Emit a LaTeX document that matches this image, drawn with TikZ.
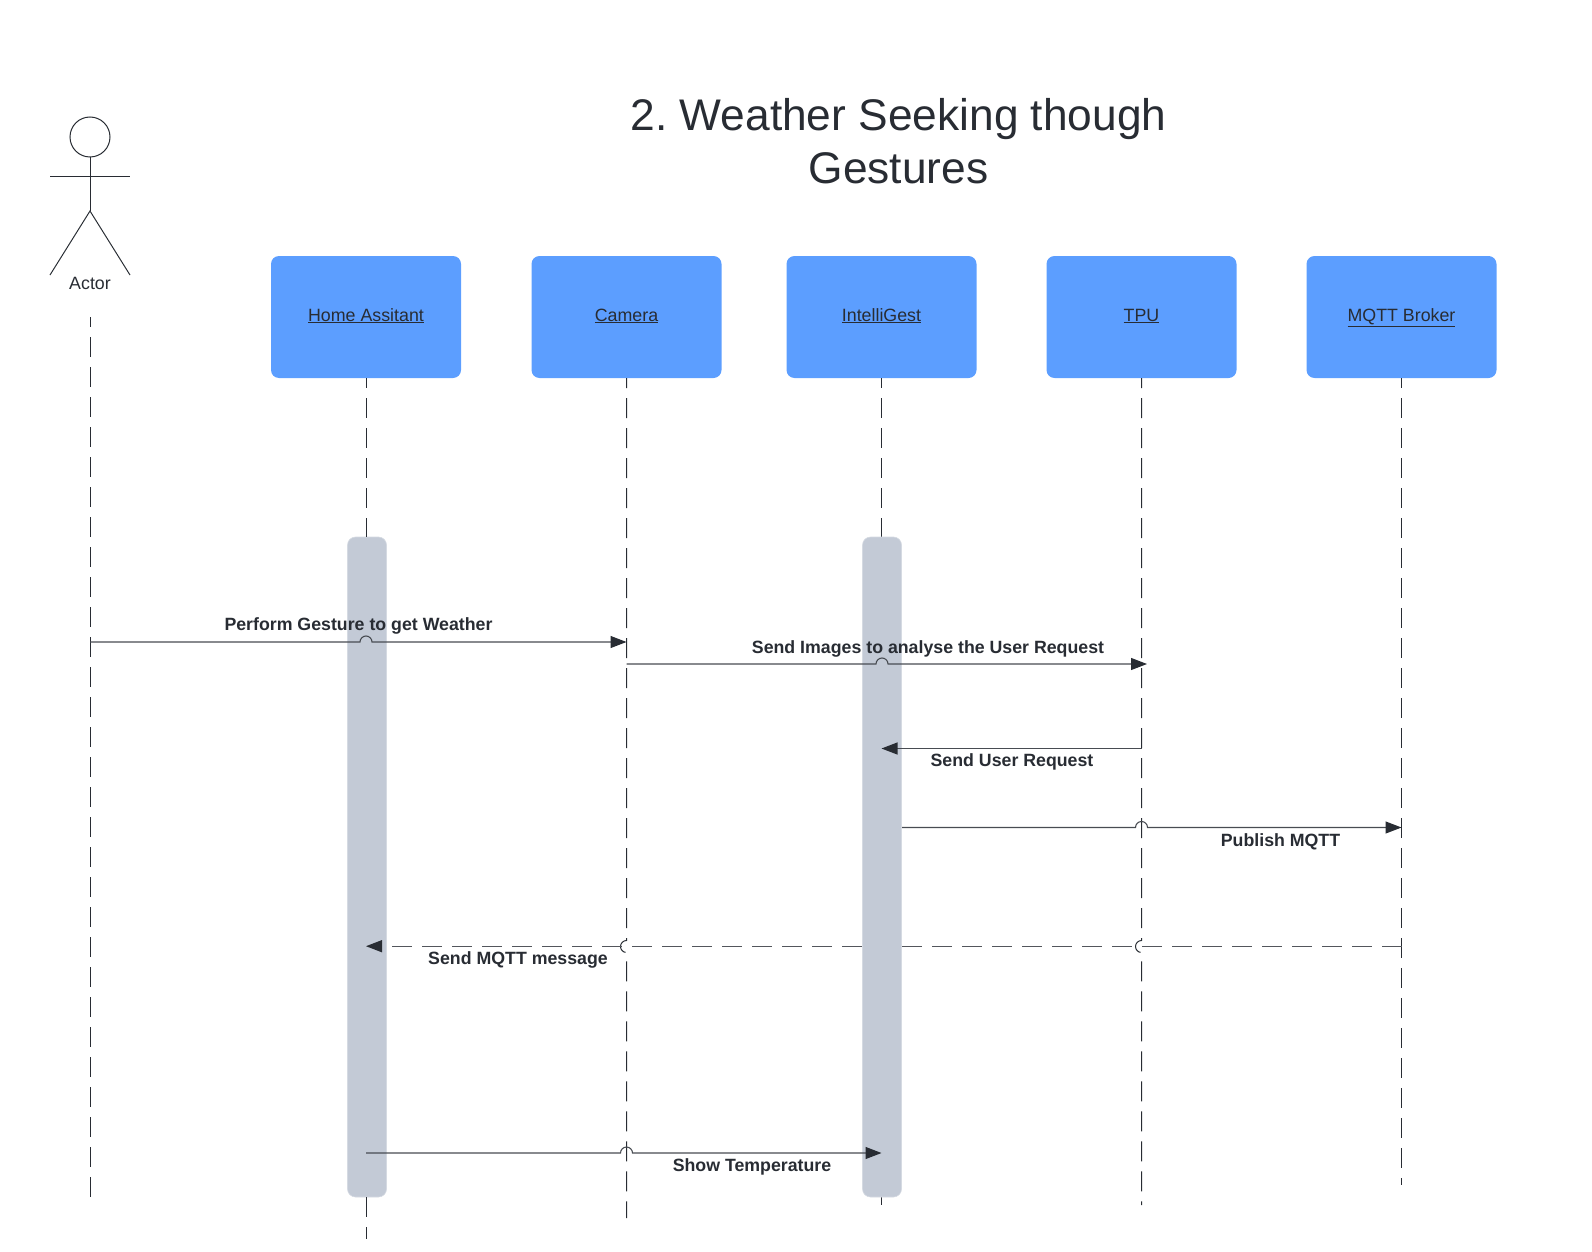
\documentclass[tikz,border=0pt]{standalone}
\usepackage{fontspec}
\setmainfont{Liberation Sans}
\usetikzlibrary{arrows.meta}

\definecolor{inkdark}{HTML}{282C33}
\definecolor{boxblue}{HTML}{5C9EFF}
\definecolor{barblue}{HTML}{C3CAD6}

\tikzset{
  lifebox/.style={fill=boxblue, rounded corners=8pt, minimum width=190pt, minimum height=122pt,
    inner sep=0pt, text=inkdark, text height=13pt, text depth=5pt, font=\fontsize{17.8}{20}\selectfont},
  lifeline/.style={draw=inkdark, line width=1pt, dash pattern=on 20pt off 10pt, dash phase=10pt},
  activebar/.style={fill=barblue, draw=barblue!70!white, line width=0.6pt, rounded corners=8pt,
    minimum width=39pt, minimum height=660pt, inner sep=0pt},
  msg/.style={draw=inkdark!85!white, line width=1.1pt,
    -{Triangle[length=16pt,width=12pt,fill=inkdark,color=inkdark]}},
  msglabel/.style={text=inkdark, inner sep=0pt, font=\fontsize{17.75}{20}\selectfont\bfseries},
  stick/.style={draw=inkdark, line width=1pt}
}

\begin{document}
\frenchspacing
\begin{tikzpicture}[x=1pt, y=-1pt]

  \useasboundingbox (0,0) rectangle (1592,1252);

  \def\hopradius{6pt}

  % Title
  \node[text=inkdark, inner sep=0pt, align=center, font=\fontsize{44.3}{53}\selectfont] (title)
    at (898.5,141) {2. Weather Seeking though\\Gestures};

  % Actor figure
  \coordinate (hip) at (90,211);
  \coordinate (handl) at (50,176.5);
  \coordinate (handr) at (130,176.5);
  \coordinate (footl) at (50,275);
  \coordinate (footr) at (130,275);
  \node[circle, draw=inkdark, line width=1pt, minimum size=40pt, inner sep=0pt] (head) at (90,137) {};
  \draw[stick] (head.south) -- (hip);
  \draw[stick] (handl) -- (handr);
  \draw[stick] (footl) -- (hip) -- (footr);
  \node[text=inkdark, inner sep=0pt, font=\fontsize{17.8}{20}\selectfont] (actor) at (90,283.5) {Actor};

  % Boxes across the top
  \foreach \name/\xpos/\boxtext in {home/366/Home Assitant, camera/626.5/Camera, intelli/881.5/IntelliGest,
      tpu/1141.5/TPU, broker/1401.5/MQTT Broker}{
    \node[lifebox] (\name) at (\xpos,317) {\underline{\boxtext}};
  }

  % Activation bars, the IntelliGest one is redrawn later over the dashed message
  \node[activebar] (homebar) at (367,867) {};

  % Lower ends of the lifelines
  \coordinate (actortop) at (90,317);
  \coordinate (actorend) at (90,1198);
  \coordinate (homeend) at (366,1239);
  \coordinate (cameraend) at (626.5,1218);
  \coordinate (intelliend) at (881.5,1205);
  \coordinate (tpuend) at (1141.5,1205);
  \coordinate (brokerend) at (1401.5,1185);
  \coordinate (hometop) at (366,537);
  \coordinate (homelow) at (366,1197);
  \coordinate (intellitop) at (881.5,537);
  \coordinate (intellilow) at (881.5,1197);

  % Lifelines, camera and TPU jump over the dashed message
  \coordinate (camerahop) at (626.5,940.5);
  \coordinate (tpuhop) at (1141.5,940.5);
  \draw[lifeline] (actortop) -- (actorend);
  \draw[lifeline] (home.south) -- (hometop);
  \draw[lifeline, dash phase=0pt] (homelow) -- (homeend);
  \draw[lifeline] (camera.south) -- (camerahop) arc[start angle=90, end angle=270, radius=\hopradius] -- (cameraend);
  \draw[lifeline] (intelli.south) -- (intellitop);
  \draw[lifeline, dash phase=0pt] (intellilow) -- (intelliend);
  \draw[lifeline] (tpu.south) -- (tpuhop) arc[start angle=90, end angle=270, radius=\hopradius] -- (tpuend);
  \draw[lifeline] (broker.south) -- (brokerend);

  % Dashed message stays under the IntelliGest bar
  \coordinate (replystart) at (1401.5,946.2);
  \coordinate (replyend) at (366,946.2);
  \draw[msg, line width=1.3pt, draw=inkdark!80!white, dash pattern=on 20pt off 10pt] (replystart) -- (replyend);
  \node[activebar] (intellibar) at (882,867) {};

  % Messages
  \coordinate (performstart) at (90,642);
  \coordinate (performhop) at (360,642);
  \coordinate (performend) at (626.5,642);
  \draw[msg] (performstart) -- (performhop) arc[start angle=180, end angle=0, radius=\hopradius] -- (performend);

  \coordinate (imagesstart) at (626.5,664);
  \coordinate (imageshop) at (876,664);
  \coordinate (imagesend) at (1147,664);
  \draw[msg] (imagesstart) -- (imageshop) arc[start angle=180, end angle=0, radius=\hopradius] -- (imagesend);

  \coordinate (requeststart) at (1141.5,748.5);
  \coordinate (requestend) at (881.5,748.5);
  \draw[msg] (requeststart) -- (requestend);

  \coordinate (publishstart) at (902,827.5);
  \coordinate (publishhop) at (1135.5,827.5);
  \coordinate (publishend) at (1401.5,827.5);
  \draw[msg] (publishstart) -- (publishhop) arc[start angle=180, end angle=0, radius=\hopradius] -- (publishend);

  \coordinate (showstart) at (366,1153);
  \coordinate (showhop) at (620.5,1153);
  \coordinate (showend) at (881.5,1153);
  \draw[msg] (showstart) -- (showhop) arc[start angle=180, end angle=0, radius=\hopradius] -- (showend);

  % Message labels
  \node[msglabel] (performtext) at (358.5,626) {Perform Gesture to get Weather};
  \node[msglabel] (imagestext) at (928,649) {Send Images to analyse the User Request};
  \node[msglabel] (requesttext) at (1012,762) {Send User Request};
  \node[msglabel] (publishtext) at (1280.5,842) {Publish MQTT};
  \node[msglabel] (replytext) at (518,960) {Send MQTT message};
  \node[msglabel] (showtext) at (752,1167) {Show Temperature};

\end{tikzpicture}
\end{document}
